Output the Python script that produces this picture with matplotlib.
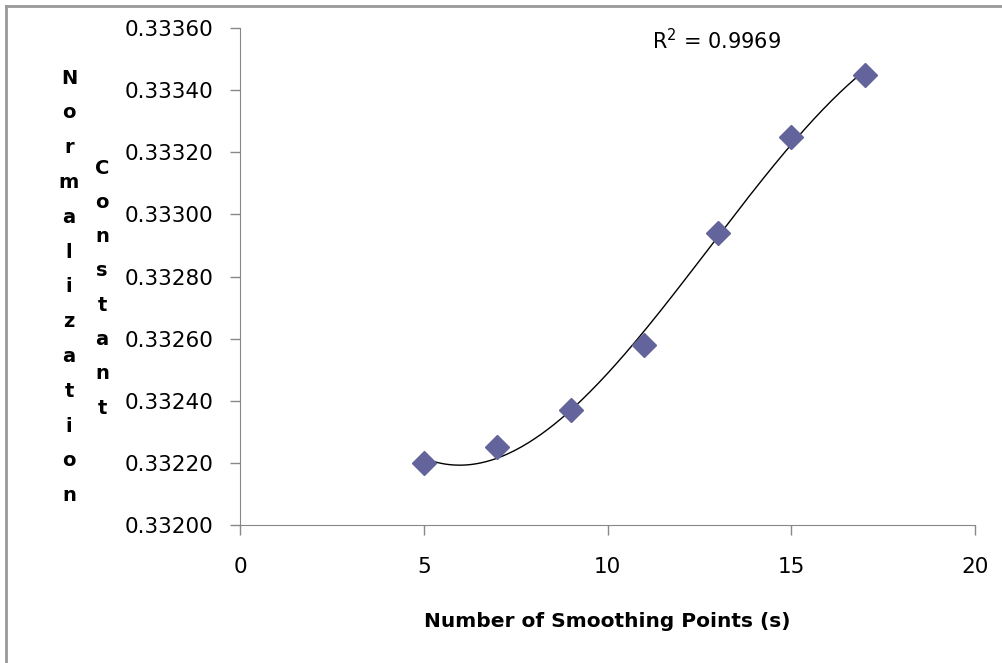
import numpy as np
import matplotlib.pyplot as plt
from matplotlib.lines import Line2D

plt.rcParams['font.family'] = ['DejaVu Sans']
plt.rcParams['mathtext.default'] = 'regular'

# smoothing points vs normalization constant
s = [5, 7, 9, 11, 13, 15, 17]
norm_const = [0.33220, 0.33225, 0.33237, 0.33258, 0.33294, 0.33325, 0.33345]
r_squared = 0.9969
y_ticks = [0.33200, 0.33220, 0.33240, 0.33260, 0.33280, 0.33300, 0.33320, 0.33340, 0.33360]

W, H = 1002, 663
fig = plt.figure(figsize=(W / 100, H / 100), dpi=100)
ax = fig.add_axes([240 / W, 1 - 525 / H, 735 / W, 497 / H])

# polynomial trendline
coef = np.polyfit(s, norm_const, 3)
xs = np.linspace(min(s), max(s), 200)
ax.plot(xs, np.polyval(coef, xs), color='black', lw=1.0, zorder=2)

ax.plot(s, norm_const, linestyle='none', marker='D', ms=12,
        color='#64649c', markeredgecolor='#64649c', zorder=3)

ax.set_xlim(0, 20)
ax.set_ylim(y_ticks[0], y_ticks[-1])
ax.set_xticks([0, 5, 10, 15, 20])
ax.set_yticks(y_ticks)
ax.set_yticklabels(['%.5f' % v for v in y_ticks])
ax.tick_params(axis='both', labelsize=15.5, color='#888888', length=7, width=1)
ax.tick_params(axis='x', pad=16)
ax.tick_params(axis='y', pad=12)
for side in ['top', 'right']:
    ax.spines[side].set_visible(False)
for side in ['left', 'bottom']:
    ax.spines[side].set_color('#888888')

ax.set_xlabel('Number of Smoothing Points (s)', fontsize=14.5, fontweight='bold', labelpad=25)

# stacked vertical axis title, one letter per line
def stack(word, x, y0, step):
    for i, ch in enumerate(word):
        fig.text(x / W, 1 - (y0 + i * step) / H, ch, ha='center', va='center',
                 fontsize=14, fontweight='bold')

stack('Normalization', 69, 78, 34.8)
stack('Constant', 102, 168, 34.3)

ax.text(11.2, 0.33356, 'R$^2$ = %.4f' % r_squared, fontsize=15, va='center', ha='left')

# chart border
fig.add_artist(Line2D([6 / W, 6 / W], [0, 1 - 6 / H], color='#999999', lw=2,
                      transform=fig.transFigure))
fig.add_artist(Line2D([6 / W, 1], [1 - 6 / H, 1 - 6 / H], color='#999999', lw=2,
                      transform=fig.transFigure))

fig.savefig('out.png', dpi=100)
